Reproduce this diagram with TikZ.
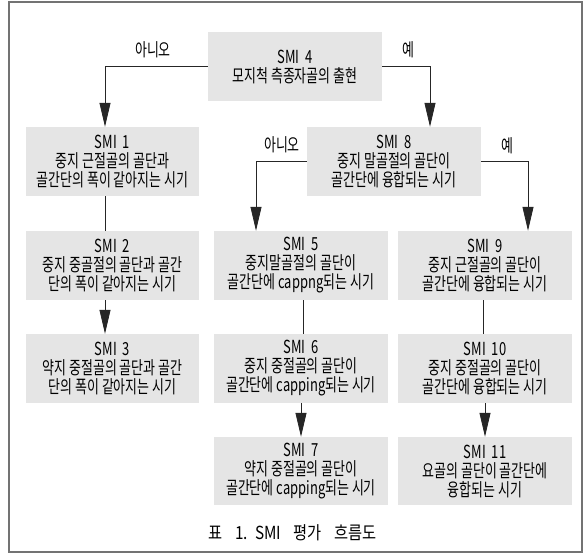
\documentclass[tikz,border=0pt]{standalone}
\usepackage{fontspec}
\setmainfont{Noto Sans CJK KR}[FakeStretch=0.72]
\newfontfamily\capfont{Noto Sans CJK KR}[FakeStretch=0.85]
\newcommand\smilabel[1]{SMI\hspace{6pt}#1}
\usetikzlibrary{arrows.meta}
\begin{document}
\begin{tikzpicture}[x=1pt,y=-1pt,
  smibox/.style={rectangle, fill=black!10, draw=none, minimum width=174pt, minimum height=69pt,
    inner sep=0pt, align=center, font=\fontsize{18pt}{19pt}\selectfont},
  conn/.style={draw=black!85, line width=0.8pt},
  arr/.style={conn, -{Triangle[length=24pt,width=11pt]}},
  lbl/.style={font=\fontsize{18pt}{19pt}\selectfont, inner sep=0pt}]
\useasboundingbox (0,0) rectangle (585,553);
\draw[draw=black!55, line width=1.5pt] (9,2) rectangle (582,552);

\node[smibox] (s4) at (295,66.5) {\smilabel{4}\\모지척 측종자골의 출현};
\node[smibox, minimum width=173pt] (s1) at (112.5,161.5) {\smilabel{1}\\중지 근절골의 골단과\\골간단의 폭이 같아지는 시기};
\node[smibox] (s8) at (394,161.5) {\smilabel{8}\\중지 말골절의 골단이\\골간단에 융합되는 시기};
\node[smibox, minimum width=173pt] (s2) at (112.5,265.5) {\smilabel{2}\\중지 중골절의 골단과 골간\\단의 폭이 같아지는 시기};
\node[smibox, minimum width=173pt] (s3) at (112.5,368.5) {\smilabel{3}\\약지 중절골의 골단과 골간\\단의 폭이 같아지는 시기};
\node[smibox] (s5) at (301,265.5) {\smilabel{5}\\중지말골절의 골단이\\골간단에 cappng되는 시기};
\node[smibox] (s9) at (485,265.5) {\smilabel{9}\\중지 근절골의 골단이\\골간단에 융합되는 시기};
\node[smibox] (s6) at (301,368.5) {\smilabel{6}\\중지 중절골의 골단이\\골간단에 capping되는 시기};
\node[smibox] (s10) at (485,368.5) {\smilabel{10}\\중지 중절골의 골단이\\골간단에 융합되는 시기};
\node[smibox, minimum height=68pt] (s7) at (301,471) {\smilabel{7}\\약지 중절골의 골단이\\골간단에 capping되는 시기};
\node[smibox, minimum height=68pt] (s11) at (485,471) {\smilabel{11}\\요골의 골단이 골간단에\\융합되는 시기};

\draw[arr] (s4.west) -| ([xshift=-7.5pt]s1.north);
\draw[arr] (s4.east) -| ([xshift=36pt]s8.north);
\draw[arr] (s8.west) -| ([xshift=-45pt]s5.north);
\draw[arr] (s8.east) -| ([xshift=43pt]s9.north);
\draw[conn] ([xshift=-7.5pt]s1.south) -- ([xshift=-7.5pt]s2.north);
\draw[arr] ([xshift=-7.5pt]s2.south) -- ([xshift=-7.5pt]s3.north);
\draw[conn] ([xshift=2pt]s5.south) -- ([xshift=2pt]s6.north);
\draw[arr] (s6.south) -- (s7.north);
\draw[conn] ([xshift=-2pt]s9.south) -- ([xshift=-2pt]s10.north);
\draw[arr] (s10.south) -- (s11.north);

\node[lbl] (l1) at (153,50) {아니오};
\node[lbl] (l2) at (408,50) {예};
\node[lbl] (l3) at (282,144.5) {아니오};
\node[lbl] (l4) at (507,146) {예};

\node[lbl, font=\capfont\fontsize{18pt}{19pt}\selectfont] (cap) at (292.5,533) {표\hspace{13pt}1.\hspace{7pt}SMI\hspace{12pt}평가\hspace{13pt}흐름도};
\end{tikzpicture}
\end{document}
